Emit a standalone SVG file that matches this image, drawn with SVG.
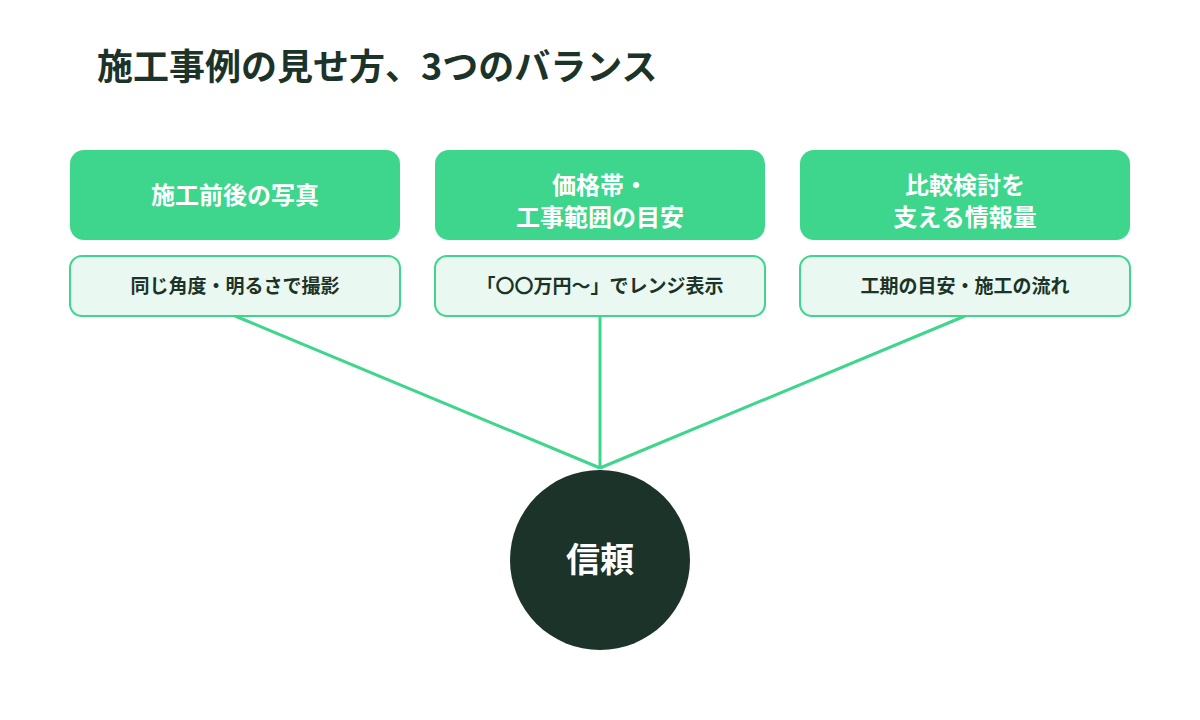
<svg xmlns="http://www.w3.org/2000/svg" width="1200" height="720" viewBox="0 0 1200 720">
<style>
text{font-family:"Noto Sans CJK JP","Noto Sans",sans-serif;font-weight:bold;text-anchor:middle}
.h{fill:#3dd68c}
.ht{fill:#fff;font-size:24px}
.s{fill:#e9f8f0;stroke:#3dd68c;stroke-width:2}
.st{fill:#1c3329;font-size:19px}
.c{stroke:#3dd68c;stroke-width:3;fill:none}
</style>
<rect width="1200" height="720" fill="#fff"/>
<text x="97" y="80" style="text-anchor:start;font-size:36px;fill:#1c3329">施工事例の見せ方、3つのバランス</text>
<g id="connectors">
<line class="c" x1="235" y1="316" x2="600" y2="468"/>
<line class="c" x1="600" y1="316" x2="600" y2="468"/>
<line class="c" x1="965" y1="316" x2="600" y2="468"/>
</g>
<g id="n1"><rect class="h" x="70" y="150" width="330" height="90" rx="14"/><text class="ht" x="235" y="204">施工前後の写真</text></g>
<g id="n1s"><rect class="s" x="70" y="256" width="330" height="60" rx="12"/><text class="st" x="235" y="293">同じ角度・明るさで撮影</text></g>
<g id="n2"><rect class="h" x="435" y="150" width="330" height="90" rx="14"/><text class="ht" x="600" y="194">価格帯・</text><text class="ht" x="600" y="226">工事範囲の目安</text></g>
<g id="n2s"><rect class="s" x="435" y="256" width="330" height="60" rx="12"/><text class="st" x="600" y="293">「〇〇万円〜」でレンジ表示</text></g>
<g id="n3"><rect class="h" x="800" y="150" width="330" height="90" rx="14"/><text class="ht" x="965" y="194">比較検討を</text><text class="ht" x="965" y="226">支える情報量</text></g>
<g id="n3s"><rect class="s" x="800" y="256" width="330" height="60" rx="12"/><text class="st" x="965" y="293">工期の目安・施工の流れ</text></g>
<g id="trust"><circle cx="600" cy="560" r="90" fill="#1c3329"/><text x="600" y="572" style="fill:#fff;font-size:34px">信頼</text></g>
</svg>
